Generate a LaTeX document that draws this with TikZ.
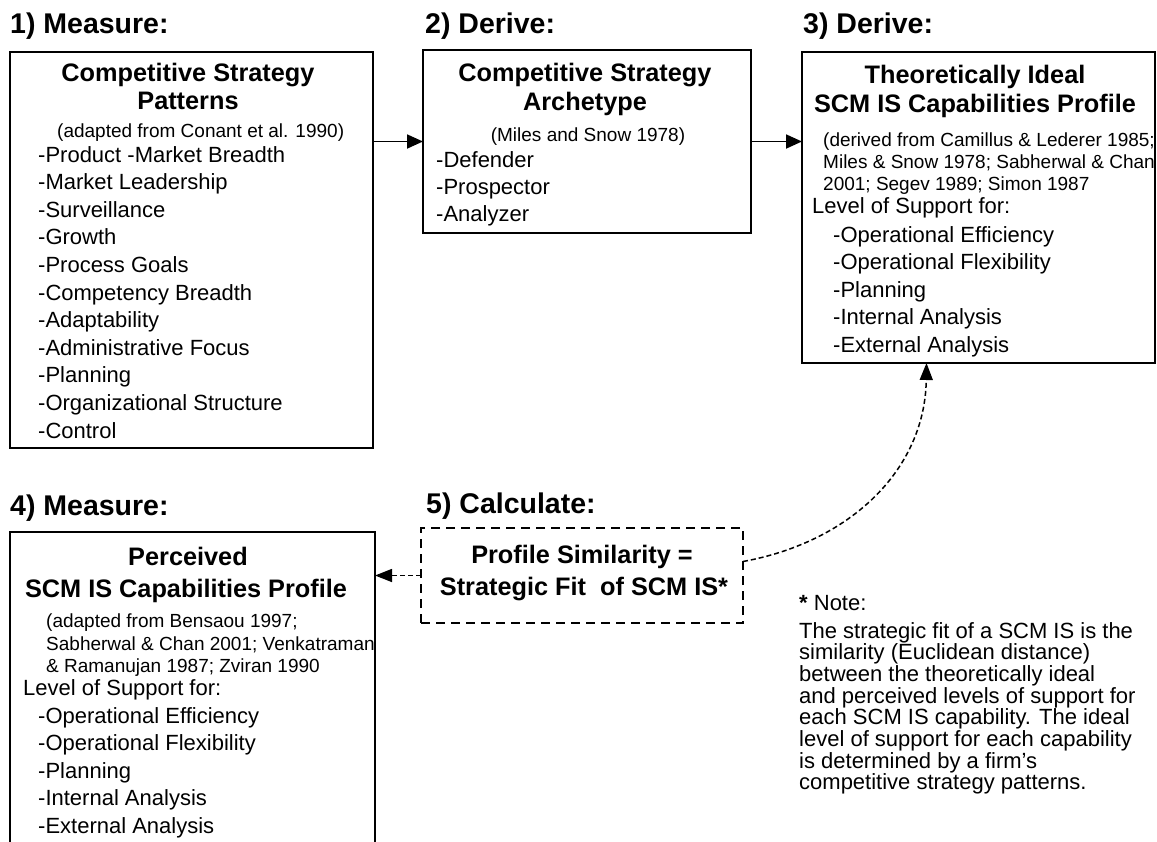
\documentclass[tikz,border=0pt]{standalone}
\usepackage{fontspec}
\setmainfont{Liberation Sans}
\usetikzlibrary{arrows.meta,calc}
\newcommand\fsz[2]{\fontsize{#1}{#2}\selectfont}
\begin{document}
\begin{tikzpicture}[x=1pt,y=-1pt,
  box/.style={draw, line width=2pt, inner sep=0pt, outer sep=0pt},
  dbox/.style={box, line width=2.5pt, dash pattern=on 9pt off 6pt},
  head/.style={inner sep=0pt, anchor=base west, font=\fsz{28.5}{30}\bfseries},
  ttl/.style={inner sep=0pt, anchor=base, font=\fsz{25.3}{28}\bfseries},
  refx/.style={inner sep=0pt, anchor=base west, font=\fsz{19}{22}},
  itm/.style={inner sep=0pt, anchor=base west, font=\fsz{22}{27}},
  conn/.style={line width=1.8pt, -{Triangle[length=16pt,width=14pt]}},
  dconn/.style={line width=1.5pt, dash pattern=on 5pt off 3pt, -{Triangle[length=17pt,width=13pt]}}]
\useasboundingbox (0,0) rectangle (1157,841);
\clip (0,0) rectangle (1157,841);
\fill[white] (0,0) rectangle (1157,841);

% headings
\node[head] (h1) at (10,33) {1) Measure:};
\node[head] (h2) at (425,33) {2) Derive:};
\node[head] (h3) at (803,33) {3) Derive:};
\node[head] (h4) at (10,515) {4) Measure:};
\node[head] (h5) at (426,513) {5) Calculate:};

% boxes
\node[box, minimum width=363pt, minimum height=396pt] (b1) at (191.5,250) {};
\node[box, minimum width=328pt, minimum height=183pt] (b2) at (587,141.5) {};
\node[box, minimum width=353pt, minimum height=311pt] (b3) at (978.5,207.5) {};
\node[box, minimum width=365pt, minimum height=400pt] (b4) at (192.5,732) {};
\node[dbox, minimum width=322pt, minimum height=95pt] (b5) at (582,575.5) {};

% box 1
\node[ttl] (t1a) at (188,81) {Competitive Strategy};
\node[ttl] (t1b) at (188,109) {Patterns};
\node[refx] (r1) at (57,137) {(adapted from Conant et al. 1990)};
\foreach \t [count=\i from 0] in {-Product -Market Breadth,-Market Leadership,-Surveillance,-Growth,-Process Goals,-Competency Breadth,-Adaptability,-Administrative Focus,-Planning,-Organizational Structure,-Control}
  \node[itm] (i1-\i) at (38,162+27.6*\i) {\t};

% box 2
\node[ttl] (t2a) at (585,81) {Competitive Strategy};
\node[ttl] (t2b) at (585,110) {Archetype};
\node[refx, anchor=base] (r2) at (588,141) {(Miles and Snow 1978)};
\foreach \t [count=\i from 0] in {-Defender,-Prospector,-Analyzer}
  \node[itm] (i2-\i) at (436,167+27*\i) {\t};

% box 3
\node[ttl] (t3a) at (975,83) {Theoretically Ideal};
\node[ttl] (t3b) at (975,112) {SCM IS Capabilities Profile};
\node[refx] (r3a) at (823,146) {(derived from Camillus \& Lederer 1985;};
\node[refx] (r3b) at (823,168) {Miles \& Snow 1978; Sabherwal \& Chan};
\node[refx] (r3c) at (823,190) {2001; Segev 1989; Simon 1987};
\node[itm] (l3) at (812,213) {Level of Support for:};
\foreach \t [count=\i from 0] in {-Operational Efficiency,-Operational Flexibility,-Planning,-Internal Analysis,-External Analysis}
  \node[itm] (i3-\i) at (833,242+27.5*\i) {\t};

% box 4
\node[ttl] (t4a) at (188,565) {Perceived};
\node[ttl] (t4b) at (186,597) {SCM IS Capabilities Profile};
\node[refx] (r4a) at (46,627) {(adapted from Bensaou 1997;};
\node[refx] (r4b) at (46,650) {Sabherwal \& Chan 2001; Venkatraman};
\node[refx] (r4c) at (46,672) {\& Ramanujan 1987; Zviran 1990};
\node[itm] (l4) at (23,695) {Level of Support for:};
\foreach \t [count=\i from 0] in {-Operational Efficiency,-Operational Flexibility,-Planning,-Internal Analysis,-External Analysis}
  \node[itm] (i4-\i) at (38,723+27.5*\i) {\t};

% box 5
\node[ttl] (t5a) at (582,563) {Profile Similarity =};
\node[ttl] (t5b) at (584,595) {Strategic Fit\ \ of SCM IS*};

% note
\node[itm] (n0) at (799,610) {\textbf{*} Note:};
\foreach \t [count=\i from 0] in {The strategic fit of a SCM IS is the,similarity (Euclidean distance),between the theoretically ideal,and perceived levels of support for,each SCM IS capability. The ideal,level of support for each capability,is determined by a firm’s,competitive strategy patterns.}
  \node[itm] (n1-\i) at (799,638+21.7*\i) {\t};

% connectors
\draw[conn] (b1.east |- b2.west) -- (b2.west);
\draw[conn] (b2.east) -- (b3.west |- b2.east);
\draw[dconn] (b5.west) -- (b4.east |- b5.west);
\draw[dconn] ([yshift=14pt]b5.east) .. controls (850,542) and (925,470) .. ([xshift=-52pt]b3.south);
\end{tikzpicture}
\end{document}
